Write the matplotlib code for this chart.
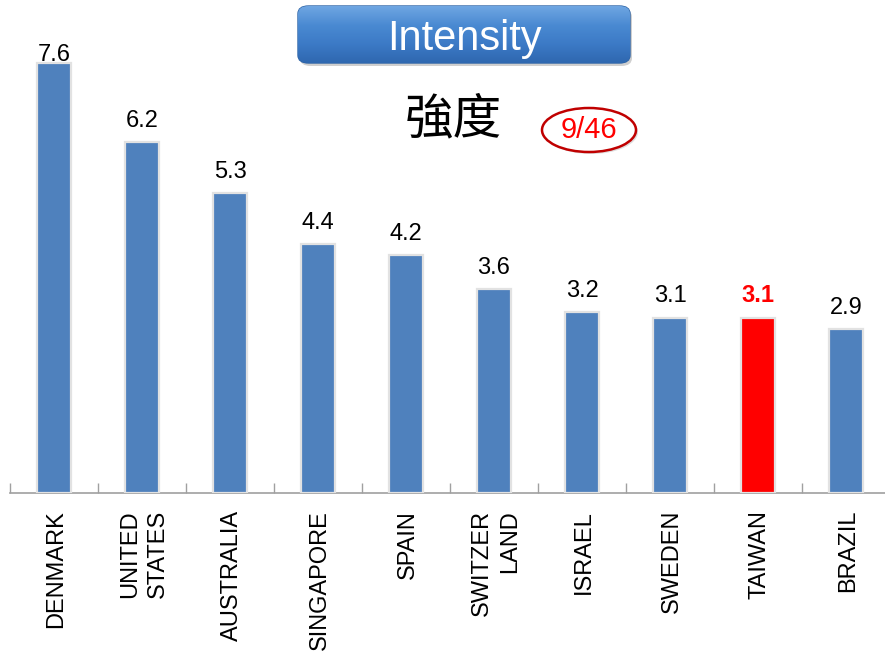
import numpy as np
import matplotlib.pyplot as plt
from matplotlib.patches import FancyBboxPatch, Ellipse
from matplotlib.transforms import blended_transform_factory

countries = ["DENMARK", "UNITED\nSTATES", "AUSTRALIA", "SINGAPORE", "SPAIN",
             "SWITZER\nLAND", "ISRAEL", "SWEDEN", "TAIWAN", "BRAZIL"]
values = [7.6, 6.2, 5.3, 4.4, 4.2, 3.6, 3.2, 3.1, 3.1, 2.9]
highlight = "TAIWAN"
rank_text = "9/46"

W, H = 885, 653
fig = plt.figure(figsize=(W / 100, H / 100), dpi=100)
fig.patch.set_facecolor("white")

# main bar axes, baseline near the bottom third
ax = fig.add_axes([10 / W, (H - 493) / H, 875 / W, 493 / H])
ax.set_facecolor("none")
x = np.arange(len(values))
colors = ["#FF0000" if c == highlight else "#4F81BD" for c in countries]
ax.bar(x, values, width=0.39, color=colors, edgecolor="#E2E2E2", linewidth=1.6,
       zorder=3)

ax.set_xlim(-0.5, -0.5 + 875 / 88)
ax.set_ylim(0, 493 / 56.6)
for s in ["left", "right", "top"]:
    ax.spines[s].set_visible(False)
ax.spines["bottom"].set_color("#A0A0A0")
ax.spines["bottom"].set_linewidth(1.2)
ax.set_yticks([])
ax.set_xticks(np.arange(-0.5, 9.0, 1.0))
ax.set_xticklabels([])
ax.tick_params(axis="x", direction="in", length=7, color="#A0A0A0", width=1.0)

# value labels; the tallest one gets pushed down onto its bar top
for xi, v, c in zip(x, values, countries):
    ly = min(v + 0.18, 7.55)
    if c == highlight:
        ax.text(xi, ly, f"{v:.1f}", ha="center", va="bottom", fontsize=17,
                color="#FF0000", fontweight="bold", family="Liberation Sans",
                zorder=4)
    else:
        ax.text(xi, ly, f"{v:.1f}", ha="center", va="bottom", fontsize=17,
                color="black", family="Liberation Sans", zorder=4)

# rotated country names under the axis
trans = blended_transform_factory(ax.transData, fig.transFigure)
for xi, c in zip(x, countries):
    ax.text(xi + 0.02, 1 - 510 / H, c, transform=trans, rotation=90,
            ha="center", va="top", fontsize=17, family="Liberation Sans",
            multialignment="right", linespacing=1.35)

# title button with gradient fill
bx, by, bw, bh = 298 / W, 1 - 63 / H, 332 / W, 57 / H
shadow = FancyBboxPatch((bx + 2 / W, by - 3 / H), bw, bh,
                        boxstyle="round,pad=0,rounding_size=0.012",
                        transform=fig.transFigure, facecolor="#B0B0B0",
                        edgecolor="none", alpha=0.6, zorder=4)
fig.patches.append(shadow)
box = FancyBboxPatch((bx, by), bw, bh,
                     boxstyle="round,pad=0,rounding_size=0.012",
                     transform=fig.transFigure, facecolor="#3C7CC4",
                     edgecolor="#2E64A6", linewidth=1.0, zorder=5)
fig.patches.append(box)
gax = fig.add_axes([bx, by, bw, bh], zorder=6)
gax.axis("off")
grad = np.linspace(0, 1, 100).reshape(-1, 1)
cmap = plt.matplotlib.colors.LinearSegmentedColormap.from_list(
    "btn", ["#6FA6E2", "#4A8AD2", "#3C7AC6", "#2F68B0"])
im = gax.imshow(grad, aspect="auto", cmap=cmap, extent=[0, 1, 0, 1],
                transform=gax.transAxes)
clip = FancyBboxPatch((bx, by), bw, bh,
                      boxstyle="round,pad=0,rounding_size=0.012",
                      transform=fig.transFigure, facecolor="none",
                      edgecolor="none")
im.set_clip_path(clip)
gax.text(0.5, 0.42, "Intensity", ha="center", va="center", fontsize=30,
         color="white", family="Liberation Sans", transform=gax.transAxes)

fig.text(453 / W, 1 - 120 / H, "強度", ha="center", va="center", fontsize=35,
         family=["Noto Sans CJK TC", "DejaVu Sans"], color="black")

# rank badge
ell_sh = Ellipse((591 / W, 1 - 132 / H), 94 / W, 44 / H,
                 transform=fig.transFigure, facecolor="#C8C8C8",
                 edgecolor="none", alpha=0.6, zorder=4)
fig.patches.append(ell_sh)
ell = Ellipse((589 / W, 1 - 130 / H), 94 / W, 44 / H,
              transform=fig.transFigure, facecolor="white",
              edgecolor="#C00000", linewidth=1.8, zorder=5)
fig.patches.append(ell)
fig.text(589 / W, 1 - 130 / H, rank_text, ha="center", va="center",
         fontsize=21, color="#FF0000", family="Liberation Sans", zorder=6)

fig.savefig("out.png", dpi=100, facecolor="white")
